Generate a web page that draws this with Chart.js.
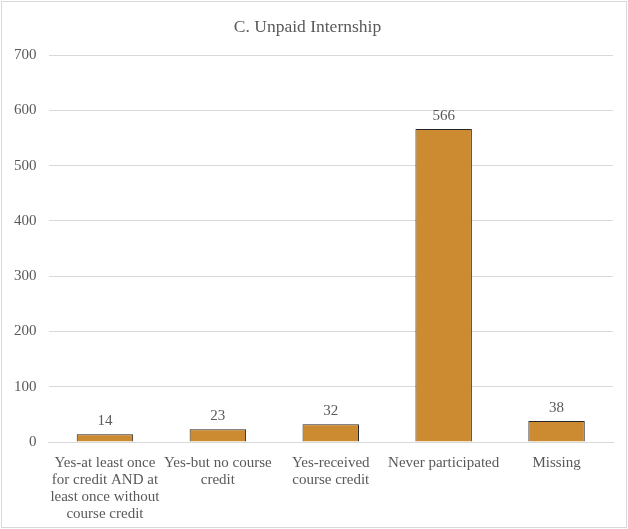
<!DOCTYPE html>
<html>
<head>
<meta charset="utf-8">
<script src="https://cdn.jsdelivr.net/npm/chart.js@4/dist/chart.umd.min.js"></script>
<style>
html,body{margin:0;padding:0;background:#fff;}
#wrap{position:absolute;left:1px;top:1px;width:624px;height:525px;border:1px solid #D9D9D9;background:#fff;}
canvas{display:block;}
</style>
</head>
<body>
<div id="wrap"><canvas id="c" width="624" height="525"></canvas></div>
<script>
const chartTitle = "C. Unpaid Internship";
const categories = [
  ["Yes-at least once", "for credit AND at", "least once without", "course credit"],
  ["Yes-but no course", "credit"],
  ["Yes-received", "course credit"],
  ["Never participated"],
  ["Missing"]
];
const counts = [14, 23, 32, 566, 38];
const yTicks = [0, 100, 200, 300, 400, 500, 600, 700];

const FONT = "'Liberation Serif', 'Times New Roman', serif";
const TXT = "#595959";

const dataLabels = {
  id: 'dataLabels',
  afterDatasetsDraw(chart) {
    const ctx = chart.ctx;
    const meta = chart.getDatasetMeta(0);
    ctx.save();
    ctx.font = "15px " + FONT;
    ctx.fillStyle = TXT;
    ctx.textAlign = 'center';
    ctx.textBaseline = 'alphabetic';
    meta.data.forEach((bar, i) => {
      ctx.fillText(String(counts[i]), bar.x, bar.y - 9);
    });
    ctx.restore();
  }
};

new Chart(document.getElementById('c'), {
  type: 'bar',
  data: {
    labels: categories,
    datasets: [{
      data: counts,
      backgroundColor: '#CC8A31',
      borderColor: '#262626',
      borderWidth: 1,
      barPercentage: 0.5,
      categoryPercentage: 1.0
    }]
  },
  options: {
    responsive: false,
    animation: false,
    devicePixelRatio: 1,
    layout: { padding: { left: 0, right: 13, top: 10, bottom: -8 } },
    plugins: {
      legend: { display: false },
      tooltip: { enabled: false },
      title: {
        display: true,
        text: chartTitle,
        color: TXT,
        font: { family: FONT, size: 17.5, weight: 'normal', lineHeight: 1.2 },
        padding: { top: 4.5, bottom: 17.5 }
      }
    },
    scales: {
      y: {
        min: 0, max: 700,
        afterBuildTicks(axis) { axis.ticks = yTicks.map(v => ({ value: v })); },
        grid: { color: '#D9D9D9', lineWidth: 1, drawTicks: false },
        border: { display: false },
        ticks: { color: TXT, font: { family: FONT, size: 15 }, padding: 12 }
      },
      x: {
        grid: { display: false, drawTicks: false },
        border: { color: '#D9D9D9' },
        ticks: { color: TXT, font: { family: FONT, size: 15, lineHeight: 1.133 }, padding: 12.5, maxRotation: 0, autoSkip: false }
      }
    }
  },
  plugins: [dataLabels]
});
</script>
</body>
</html>
